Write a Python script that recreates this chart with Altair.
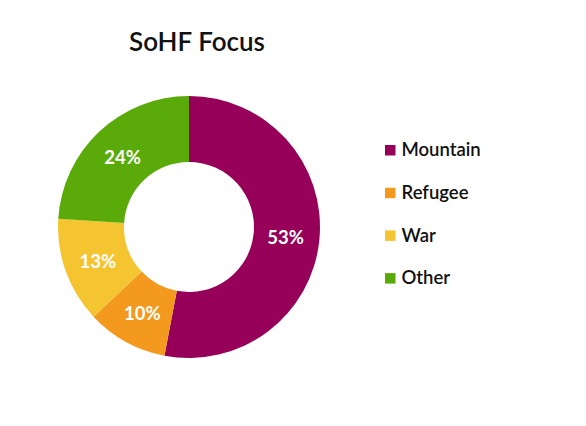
import altair as alt
import pandas as pd

categories = ["Mountain", "Refugee", "War", "Other"]
values = [53, 10, 13, 24]
labels = ["53%", "10%", "13%", "24%"]
colors = ["#960059", "#F39A1E", "#F5C431", "#5AAA0A"]
title_text = ["SoHF Focus"]

df = pd.DataFrame({"category": categories, "value": values, "label": labels,
                   "order": list(range(len(categories)))})

FONT = "Lato"
CX, CY = 189, 227

base = alt.Chart(df).encode(
    theta=alt.Theta("value:Q", stack=True),
    order=alt.Order("order:Q"),
)

arcs = base.mark_arc(outerRadius=131, innerRadius=65).encode(
    x=alt.value(CX), y=alt.value(CY),
    color=alt.Color("category:N", sort=categories,
                    scale=alt.Scale(domain=categories, range=colors),
                    legend=alt.Legend(title=None, orient="none", legendX=381, legendY=141,
                                      symbolType="square", symbolSize=110,
                                      symbolStrokeWidth=0,
                                      labelFont=FONT, labelFontSize=18.5, labelFontWeight=600,
                                      labelColor="#111111", rowPadding=23.7, labelOffset=2)),
)

texts = base.mark_text(radius=97, font=FONT, fontSize=18.5, fontWeight="bold", color="white",
                       dy=2).encode(
    x=alt.value(CX), y=alt.value(CY),
    text="label:N",
)

title = alt.Chart(pd.DataFrame({"t": title_text})).mark_text(
    font=FONT, fontSize=26, fontWeight=600, color="#111111"
).encode(x=alt.value(197), y=alt.value(43), text="t:N")

chart = alt.layer(arcs, texts, title).properties(
    width=586, height=426, padding=0, autosize=alt.AutoSizeParams(type="none")
).configure_view(stroke=None)

chart.save("out.html", embed_options={"renderer": "svg", "actions": False})
